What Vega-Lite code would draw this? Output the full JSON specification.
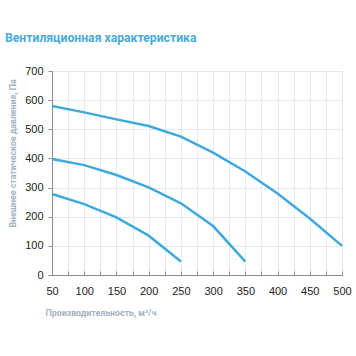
{
  "$schema": "https://vega.github.io/schema/vega-lite/v6.json",
  "width": 290,
  "height": 204,
  "autosize": {"type": "none"},
  "padding": {"left": 52, "top": 71, "right": 14, "bottom": 81},
  "background": "white",
  "title": {
    "text": "Вентиляционная характеристика",
    "anchor": "start",
    "frame": "group",
    "dx": -47,
    "offset": 21,
    "font": "Roboto",
    "fontSize": 12.2,
    "fontWeight": "bold",
    "color": "#4aa9da"
  },
  "config": {
    "view": {"stroke": null},
    "axis": {
      "labelFont": "Liberation Sans",
      "labelFontSize": 11,
      "labelColor": "#222222",
      "titleFont": "Roboto",
      "titleFontSize": 8.8,
      "titleFontWeight": "bold",
      "titleColor": "#a3b3c3",
      "gridColor": "#e3eaf2",
      "gridWidth": 1,
      "domainColor": "#8c8c8c",
      "tickColor": "#8c8c8c"
    }
  },
  "data": {
    "values": [
      {"series": "A", "flow": 50, "pressure": 580},
      {"series": "A", "flow": 100, "pressure": 558},
      {"series": "A", "flow": 150, "pressure": 534},
      {"series": "A", "flow": 200, "pressure": 511},
      {"series": "A", "flow": 250, "pressure": 475},
      {"series": "A", "flow": 300, "pressure": 420},
      {"series": "A", "flow": 350, "pressure": 355},
      {"series": "A", "flow": 400, "pressure": 280},
      {"series": "A", "flow": 450, "pressure": 194},
      {"series": "A", "flow": 500, "pressure": 100},
      {"series": "B", "flow": 50, "pressure": 398},
      {"series": "B", "flow": 100, "pressure": 377},
      {"series": "B", "flow": 150, "pressure": 343},
      {"series": "B", "flow": 200, "pressure": 301},
      {"series": "B", "flow": 250, "pressure": 246},
      {"series": "B", "flow": 300, "pressure": 168},
      {"series": "B", "flow": 350, "pressure": 46},
      {"series": "C", "flow": 50, "pressure": 278},
      {"series": "C", "flow": 100, "pressure": 243},
      {"series": "C", "flow": 150, "pressure": 198},
      {"series": "C", "flow": 200, "pressure": 135},
      {"series": "C", "flow": 250, "pressure": 46}
    ]
  },
  "mark": {"type": "line", "color": "#3fa9dc", "strokeWidth": 2.5, "interpolate": "linear"},
  "encoding": {
    "x": {
      "field": "flow",
      "type": "quantitative",
      "scale": {"domain": [50, 500], "nice": false, "zero": false},
      "axis": {
        "title": "Производительность, м³/ч",
        "values": [50, 75, 100, 125, 150, 175, 200, 225, 250, 275, 300, 325, 350, 375, 400, 425, 450, 475, 500],
        "labelExpr": "datum.value % 50 == 0 ? datum.label : ''",
        "labelFlush": false,
        "labelPadding": 14,
        "tickSize": -4,
        "titleAnchor": "start",
        "titleAlign": "left",
        "titleX": -7,
        "titleY": 37,
        "titleBaseline": "middle"
      }
    },
    "y": {
      "field": "pressure",
      "type": "quantitative",
      "scale": {"domain": [0, 700], "nice": false},
      "axis": {
        "title": "Внешнее статическое давление, Па",
        "values": [0, 100, 200, 300, 400, 500, 600, 700],
        "tickSize": 4,
        "labelPadding": 5,
        "titleX": -40,
        "titleY": 82,
        "titleBaseline": "middle",
        "titleAlign": "center"
      }
    },
    "detail": {"field": "series", "type": "nominal"}
  }
}
